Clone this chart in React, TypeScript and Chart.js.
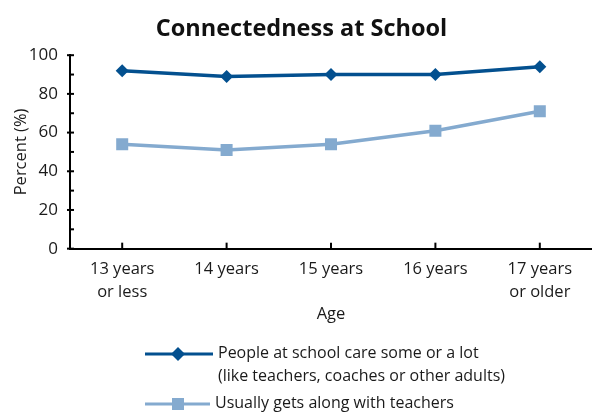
import React, { useEffect, useRef } from "react";
import { Chart, registerables } from "chart.js";

Chart.register(...registerables);

const categories: (string | string[])[] = [
  ["13 years", "or less"],
  "14 years",
  "15 years",
  "16 years",
  ["17 years", "or older"],
];
const careValues = [92, 89, 90, 90, 94];
const teacherValues = [54, 51, 54, 61, 71];
const legendCare = ["People at school care some or a lot", "(like teachers, coaches or other adults)"];
const legendTeacher = "Usually gets along with teachers";
const yMinorTicks = [10, 30, 50, 70, 90];

const DARK = "#03508f";
const LIGHT = "#84aacf";
const FONT = "'Open Sans'";
const TEXT = "#1a1a1a";

const ticksPlugin = {
  id: "customTicks",
  afterDraw(chart: any) {
    const ctx = chart.ctx;
    const x = chart.scales.x;
    const y = chart.scales.y;
    const area = chart.chartArea;
    ctx.save();
    ctx.strokeStyle = "#000";
    ctx.lineWidth = 2;
    [0, 20, 40, 60, 80, 100].forEach((v) => {
      const py = y.getPixelForValue(v);
      ctx.beginPath();
      ctx.moveTo(area.left - 3, py);
      ctx.lineTo(area.left + 4, py);
      ctx.stroke();
    });
    yMinorTicks.forEach((v) => {
      const py = y.getPixelForValue(v);
      ctx.beginPath();
      ctx.moveTo(area.left, py);
      ctx.lineTo(area.left + 4, py);
      ctx.stroke();
    });
    categories.forEach((_, i) => {
      const px = x.getPixelForValue(i);
      ctx.beginPath();
      ctx.moveTo(px, area.bottom);
      ctx.lineTo(px, area.bottom - 6);
      ctx.stroke();
    });

    const lx0 = 145;
    const mx = 178;
    const drawRow = (yy: number, lx1: number, color: string, style: "diamond" | "square") => {
      ctx.strokeStyle = color;
      ctx.fillStyle = color;
      ctx.lineWidth = 3;
      ctx.beginPath();
      ctx.moveTo(lx0, yy);
      ctx.lineTo(lx1, yy);
      ctx.stroke();
      ctx.beginPath();
      if (style === "diamond") {
        ctx.moveTo(mx, yy - 7);
        ctx.lineTo(mx + 7, yy);
        ctx.lineTo(mx, yy + 7);
        ctx.lineTo(mx - 7, yy);
        ctx.closePath();
      } else {
        ctx.rect(mx - 6, yy - 6, 12, 12);
      }
      ctx.fill();
    };
    drawRow(354, 213, DARK, "diamond");
    drawRow(404, 210, LIGHT, "square");
    ctx.fillStyle = TEXT;
    ctx.font = `16px ${FONT}`;
    ctx.textBaseline = "middle";
    ctx.textAlign = "left";
    ctx.fillText(legendCare[0], 218, 353);
    ctx.fillText(legendCare[1], 218, 376);
    ctx.fillText(legendTeacher, 215, 403);
    ctx.restore();
  },
};

export default function App() {
  const ref = useRef<HTMLCanvasElement>(null);
  useEffect(() => {
    if (!ref.current) return;
    const chart = new Chart(ref.current, {
      type: "line",
      data: {
        labels: categories as any,
        datasets: [
          {
            label: legendCare.join(" "),
            data: careValues,
            borderColor: DARK,
            backgroundColor: DARK,
            borderWidth: 3.5,
            pointStyle: "rectRot",
            pointRadius: 6.5,
            pointBorderWidth: 0,
            tension: 0,
          },
          {
            label: legendTeacher,
            data: teacherValues,
            borderColor: LIGHT,
            backgroundColor: LIGHT,
            borderWidth: 3.5,
            pointStyle: "rect",
            pointRadius: 8.5,
            pointBorderWidth: 0,
            tension: 0,
          },
        ],
      },
      options: {
        responsive: false,
        animation: false,
        layout: { autoPadding: false, padding: { left: 11, right: 0, top: 0, bottom: 88 } },
        plugins: {
          legend: { display: false },
          tooltip: { enabled: false },
          title: {
            display: true,
            text: "Connectedness at School",
            color: "#111",
            font: { family: FONT, size: 23.5, weight: "bold" },
            padding: { top: 15, bottom: 12 },
          },
        },
        scales: {
          x: {
            offset: true,
            grid: { display: false },
            border: { display: true, color: "#000", width: 2 },
            afterFit: (s: any) => {
              s.paddingLeft = 0;
              s.paddingRight = 0;
            },
            ticks: {
              color: TEXT,
              font: { family: FONT, size: 16.5, lineHeight: 1.38 },
              maxRotation: 0,
              autoSkip: false,
              padding: 1,
            },
            title: {
              display: true,
              text: "Age",
              color: TEXT,
              font: { family: FONT, size: 16.5 },
              padding: { top: 0, bottom: 0 },
            },
          },
          y: {
            min: 0,
            max: 100,
            grid: { display: false },
            border: { display: true, color: "#000", width: 2 },
            afterFit: (s: any) => {
              s.width = 59;
            },
            ticks: {
              stepSize: 20,
              color: TEXT,
              font: { family: FONT, size: 17 },
              padding: 4,
            },
            title: {
              display: true,
              text: "Percent (%)",
              color: TEXT,
              font: { family: FONT, size: 16.5 },
              padding: { top: 0, bottom: 2 },
            },
          },
        },
      },
      plugins: [ticksPlugin],
    });
    return () => chart.destroy();
  }, []);
  return (
    <canvas
      ref={ref}
      width={592}
      height={412}
      style={{ position: "absolute", left: 0, top: 0, width: 592, height: 412 }}
    />
  );
}
